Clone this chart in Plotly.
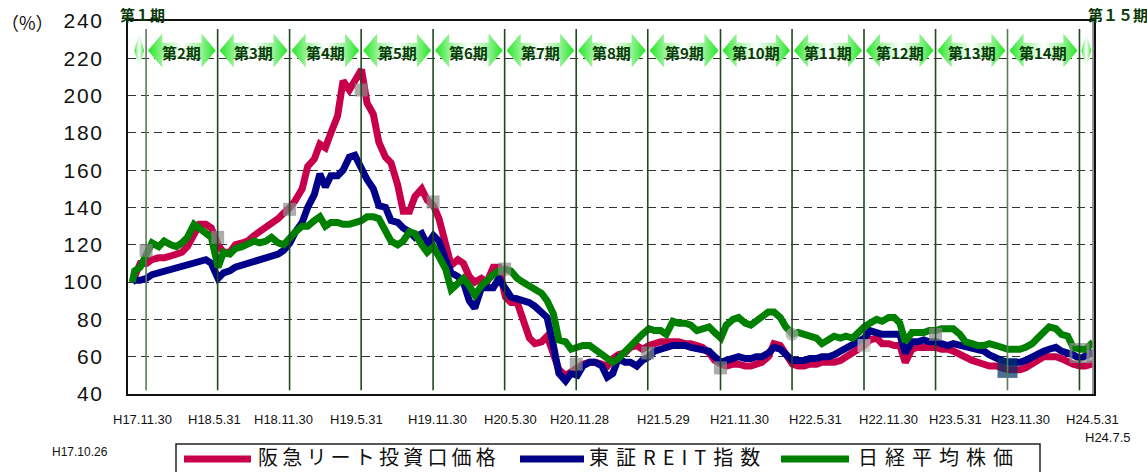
import plotly.graph_objects as go
import pandas as pd

# ---- data ----
dates = (["2005-10-26"]
         + [d.strftime("%Y-%m-%d") for d in pd.date_range("2005-11-01", "2012-07-01", freq="SMS")]
         + ["2012-07-05"])

hankyu = [
    100, 103, 110, 110, 112, 113, 113, 114, 115, 116,
    119, 125, 131, 131, 129, 120, 116, 116, 120, 121,
    122, 125, 127, 130, 132, 134, 137, 140, 144, 150,
    162, 166, 174, 172, 180, 189, 208, 203, 208, 214,
    196, 190, 175, 167, 164, 152, 138, 138, 146, 150,
    144, 141, 134, 119, 109, 112, 110, 103, 100, 102,
    100, 108, 108, 92, 89, 89, 80, 70, 67, 68,
    71, 60, 53, 50, 52, 54, 56, 57, 57, 56,
    55, 59, 61, 62, 65, 66, 64, 66, 67, 68,
    68, 68, 68, 67, 67, 66, 65, 62, 58, 56,
    55, 56, 56, 55, 55, 56, 57, 60, 67, 66,
    62, 56, 55, 55, 56, 56, 57, 57, 57, 58,
    60, 63, 64, 66, 69, 70, 67, 67, 66, 66,
    57, 64, 65, 65, 65, 65, 64, 64, 63, 61,
    59, 58, 57, 56, 55, 55, 54, 53, 53, 53,
    54, 56, 58, 60, 60, 60, 59, 57, 56, 55,
    55, 56, 57]

tse_reit = [
    100, 101, 101, 102, 104, 105, 106, 107, 108, 109,
    110, 111, 112, 112, 110, 102, 105, 106, 108, 109,
    110, 111, 112, 113, 114, 115, 117, 121, 127, 132,
    140, 147, 158, 151, 157, 157, 160, 167, 168, 160,
    155, 150, 141, 140, 133, 132, 129, 127, 124, 126,
    120, 125, 122, 112, 105, 103, 100, 90, 86, 97,
    97, 97, 102, 97, 92, 91, 90, 89, 87, 83,
    81, 66, 51, 47, 51, 50, 55, 57, 57, 55,
    49, 51, 59, 57, 57, 55, 58, 60, 63, 64,
    65, 66, 66, 66, 65, 64, 64, 63, 60, 57,
    58, 59, 60, 59, 59, 60, 60, 62, 65, 64,
    61, 58, 58, 58, 59, 59, 60, 60, 61, 63,
    64, 66, 68, 70, 74, 73, 72, 72, 72, 72,
    62, 68, 68, 69, 68, 68, 67, 66, 67, 66,
    65, 64, 64, 63, 61, 59, 58, 57, 57, 57,
    58, 60, 62, 63, 64, 65, 63, 62, 61, 59,
    60, 62, 63]

nikkei = [
    100, 106, 108, 115, 121, 119, 122, 120, 119, 121,
    124, 131, 129, 127, 124, 108, 116, 115, 118, 119,
    120, 122, 121, 122, 124, 121, 120, 124, 127, 130,
    130, 133, 135, 130, 132, 132, 131, 131, 132, 133,
    135, 135, 134, 128, 122, 120, 122, 127, 126, 120,
    116, 119, 114, 107, 96, 99, 102, 98, 93, 98,
    101, 104, 106, 107, 106, 102, 100, 98, 96, 94,
    90, 83, 69, 68, 64, 65, 66, 66, 64, 62,
    60, 57, 59, 63, 66, 69, 72, 75, 74, 74,
    72, 79, 78, 78, 77, 74, 75, 76, 73, 70,
    77, 80, 81, 78, 77, 79, 82, 84, 84, 81,
    76, 72, 73, 72, 72, 70, 67, 69, 71, 70,
    71, 70, 73, 76, 78, 80, 79, 81, 81, 78,
    68, 73, 73, 73, 74, 74, 75, 75, 75, 72,
    68, 67, 66, 66, 67, 66, 65, 64, 64, 64,
    65, 67, 70, 73, 76, 75, 72, 71, 65, 64,
    64, 67, 68]

series_names = ["阪急リート投資口価格", "東証REIT指数", "日経平均株価"]

period_ends = ["2005-11-30", "2006-05-31", "2006-11-30", "2007-05-31", "2007-11-30",
               "2008-05-30", "2008-11-28", "2009-05-29", "2009-11-30", "2010-05-31",
               "2010-11-30", "2011-05-31", "2011-11-30", "2012-05-31", "2012-07-05"]
period_end_labels = ["H17.11.30", "H18.5.31", "H18.11.30", "H19.5.31", "H19.11.30",
                     "H20.5.30", "H20.11.28", "H21.5.29", "H21.11.30", "H22.5.31",
                     "H22.11.30", "H23.5.31", "H23.11.30", "H24.5.31", "H24.7.5"]
period_names = ["第１期", "第2期", "第3期", "第4期", "第5期", "第6期", "第7期", "第8期",
                "第9期", "第10期", "第11期", "第12期", "第13期", "第14期", "第１５期"]
settle_values = [117, 124, 139, 203, 143, 107, 56, 62, 54, 72, 66, 72, 54, 62, 60]
start_label = "H17.10.26"
y_ticks = [40, 60, 80, 100, 120, 140, 160, 180, 200, 220, 240]

# ---- style ----
RED, NAVY, GREEN = "#c8004b", "#000088", "#008000"
COLORS = [RED, NAVY, GREEN]
JP = "Noto Sans CJK JP"
LAT = "Liberation Sans"

# pixel helpers (plot area: x 128..1094, y 21..394)
def px(xp):
    return (xp - 128) / 966

def py(yp):
    return (394 - yp) / 373

fig = go.Figure()

for name, vals, col in zip(series_names, [hankyu, tse_reit, nikkei], COLORS):
    fig.add_trace(go.Scatter(x=dates, y=vals, mode="lines", name=name,
                             line=dict(color=col, width=7)))

# settlement-date markers
m_colors = ["#8a8a8a"] * 15
m_symbols = ["square"] * 15
m_sizes = [13] * 15
m_colors[9] = "#a8a8a8"; m_symbols[9] = "circle"
m_colors[10] = "#c4c4c4"
m_colors[12] = "#003366"; m_sizes[12] = 20
m_symbols[13] = "square-open"; m_sizes[13] = 17
fig.add_trace(go.Scatter(x=period_ends, y=settle_values, mode="markers", showlegend=False,
                         hoverinfo="skip",
                         marker=dict(symbol=m_symbols, size=m_sizes, color=m_colors,
                                     line=dict(width=[0]*13 + [3, 0], color="#8a8a8a"))))

# period arrows
yc, H, b = 224.2, 9.1, 4.2
starts = ["2005-10-26"] + period_ends[:-1]
for s, e in zip(starts, period_ends):
    t0 = pd.Timestamp(s) + pd.Timedelta(days=5)
    t1 = pd.Timestamp(e) - pd.Timedelta(days=5)
    span = (t1 - t0).days
    h = pd.Timedelta(days=min(36, span / 2))
    xs = [t0, t0 + h, t0 + h, t1 - h, t1 - h, t1, t1 - h, t1 - h, t0 + h, t0 + h, t0]
    ys = [yc, yc + H, yc + b, yc + b, yc + H, yc, yc - H, yc - b, yc - b, yc - H, yc]
    fig.add_trace(go.Scatter(
        x=xs, y=ys, mode="lines", fill="toself", line=dict(width=0),
        fillgradient=dict(type="horizontal",
                          colorscale=[[0, "#22e622"], [0.22, "#9af39a"], [0.5, "#ffffff"],
                                      [0.78, "#9af39a"], [1, "#22e622"]]),
        showlegend=False, hoverinfo="skip"))

# period names
for i, (s, e) in enumerate(zip(starts, period_ends)):
    if i == 0 or i == len(period_ends) - 1:
        continue
    mid = pd.Timestamp(s) + (pd.Timestamp(e) - pd.Timestamp(s)) / 2
    fig.add_annotation(x=mid, y=223, text="<b>" + period_names[i] + "</b>", showarrow=False,
                       xanchor="center", yanchor="middle",
                       font=dict(family=JP, size=15, color="#0a3a0a"))
for name, xp in ((period_names[0], 142), (period_names[-1], 1118)):
    fig.add_annotation(x=px(xp), y=py(15), xref="paper", yref="paper",
                       text="<b>" + name + "</b>", showarrow=False,
                       xanchor="center", yanchor="middle",
                       font=dict(family=JP, size=15, color="#0a3a0a"))

# vertical period lines
for i, e in enumerate(period_ends):
    if i == len(period_ends) - 1:
        fig.add_shape(type="line", x0=e, x1=e, y0=40, y1=240.5, xref="x", yref="y",
                      line=dict(color="#8a8a8a", width=2))
    else:
        col = "#5a7a5a" if i in (0, 12) else "#1f4a1f"
        fig.add_shape(type="line", x0=e, x1=e, y0=42, y1=235.7, xref="x", yref="y",
                      line=dict(color=col, width=1.6))

# x labels (shifted as in the original)
shifts = [-4, -3, -6, -5, 4, 6, 3, 16, 19, 23, 24, 20, 13, 13, 15]
for i, (e, lab) in enumerate(zip(period_ends, period_end_labels)):
    yy = py(437) if i == len(period_ends) - 1 else py(419)
    fig.add_annotation(x=e, y=yy, xref="x", yref="paper", text=lab, showarrow=False,
                       xshift=shifts[i], xanchor="center", yanchor="middle",
                       font=dict(family=LAT, size=13, color="#111"))
fig.add_annotation(x=px(80), y=py(452), xref="paper", yref="paper", xanchor="center",
                   yanchor="middle", text=start_label, showarrow=False,
                   font=dict(family=LAT, size=12, color="#111"))
fig.add_annotation(x=px(27), y=py(22), xref="paper", yref="paper", xanchor="center",
                   yanchor="middle", text="（%）", showarrow=False,
                   font=dict(family=JP, size=18, color="#111"))

# legend box (drawn by hand to reproduce the spaced-out lettering)
fig.add_shape(type="rect", xref="paper", yref="paper", x0=px(176), x1=px(1040),
              y0=py(490), y1=py(444), line=dict(color="#222", width=1.5),
              fillcolor="white", layer="above")
leg_lines = [(184, 251), (520, 584), (781, 849)]
leg_text_x = [379, 678, 939]
for name, col, (a, bb), tx in zip(series_names, COLORS, leg_lines, leg_text_x):
    fig.add_shape(type="line", xref="paper", yref="paper", x0=px(a), x1=px(bb),
                  y0=py(459), y1=py(459), line=dict(color=col, width=7), layer="above")
    fig.add_annotation(x=px(tx), y=py(457), xref="paper", yref="paper", xanchor="center",
                       yanchor="middle", text=name, showarrow=False,
                       font=dict(family=JP, size=20, color="#111"))

fig.update_layout(
    width=1147, height=472,
    margin=dict(l=128, r=53, t=21, b=78, autoexpand=False),
    paper_bgcolor="white", plot_bgcolor="white",
    showlegend=False,
    xaxis=dict(type="date", range=["2005-10-15", "2012-07-07"], showgrid=False,
               showticklabels=False, showline=True, mirror=True, linecolor="#111",
               linewidth=1.5, zeroline=False),
    yaxis=dict(range=[40, 240], tickvals=y_ticks,
               ticktext=["\u200a".join(str(v)) for v in y_ticks],
               showgrid=True, gridcolor="#333",
               gridwidth=1, griddash="8px,5px", showline=True, mirror=True, linecolor="#111",
               linewidth=1.5, zeroline=False, ticks="", ticklabelstandoff=20,
               tickfont=dict(family=LAT, size=21, color="#111")),
)

post = (
    "document.body.style.margin='0px';"
    "document.body.style.overflow='hidden';"
    "var sp={'阪急リート投資口価格':'4.2px','東証REIT指数':'7px','日経平均株価':'7px'};"
    "document.querySelectorAll('.annotation-text').forEach(function(t){"
    "var s=sp[t.textContent]; if(s){t.style.letterSpacing=s;}});"
)
fig.write_html("out.html", post_script=post, config={"displayModeBar": False})
